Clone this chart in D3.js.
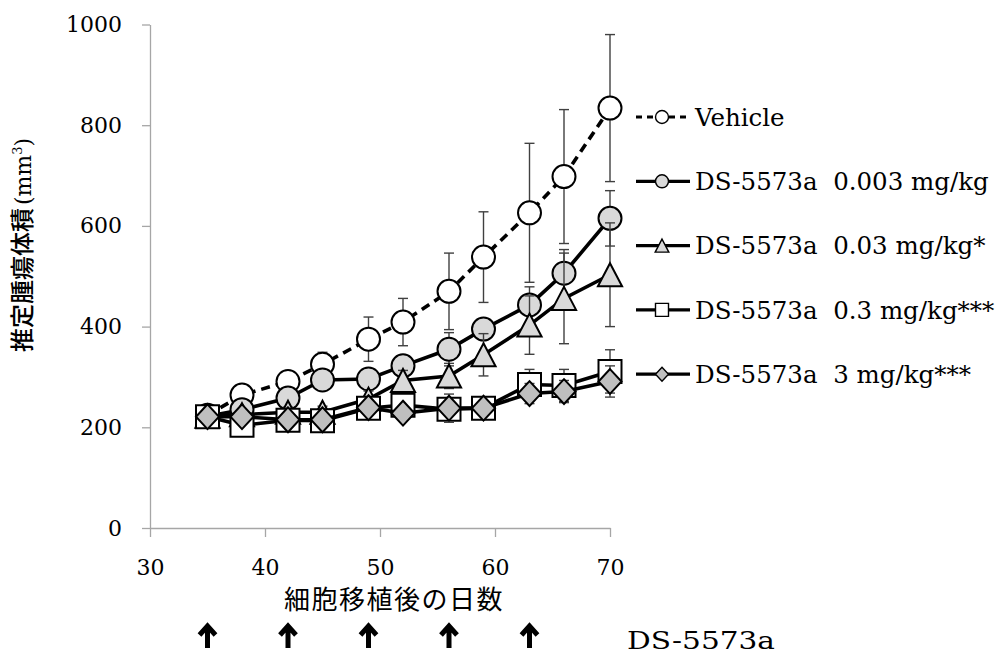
<!DOCTYPE html>
<html>
<head>
<meta charset="utf-8">
<script src="https://cdn.jsdelivr.net/npm/d3@7"></script>
<style>
  body { margin: 0; background: #fff; }
</style>
</head>
<body>
<script>
// tumour volume chart, DS-5573a dose groups vs vehicle

const days = [35, 38, 42, 45, 49, 52, 56, 59, 63, 66, 70];
const doseDays = [35, 42, 49, 56, 63];
const xTicks = [30, 40, 50, 60, 70];
const yTicks = [0, 200, 400, 600, 800, 1000];

const vehicle = [224, 264, 291, 325, 375, 409, 470, 538, 626, 698, 834];
const vehicleSem = [8, 10, 14, 24, 44, 47, 76, 90, 138, 133, 146];
const dose0003 = [222, 235, 258, 294, 296, 322, 355, 395, 443, 506, 615];
const dose0003Sem = [8, 10, 12, 14, 16, 20, 33, 20, 36, 47, 55];
const dose003 = [222, 225, 230, 230, 256, 293, 302, 344, 403, 456, 503];
const dose003Sem = [8, 8, 10, 12, 16, 20, 25, 42, 58, 90, 103];
const dose03 = [221, 204, 214, 213, 238, 244, 236, 238, 285, 283, 311];
const dose03Sem = [8, 10, 10, 10, 12, 14, 20, 14, 30, 32, 43];
const dose3 = [221, 221, 215, 215, 239, 228, 238, 238, 267, 271, 291];
const dose3Sem = [8, 8, 8, 8, 12, 14, 28, 14, 20, 22, 31];

const seriesNames = [
  "Vehicle",
  "DS-5573a\u00a0\u00a00.003 mg/kg",
  "DS-5573a\u00a0\u00a00.03 mg/kg*",
  "DS-5573a\u00a0\u00a00.3 mg/kg***",
  "DS-5573a\u00a0\u00a03 mg/kg***"
];

const serif = "'DejaVu Serif', 'Liberation Serif', serif";
const jp = "'Noto Sans CJK JP', sans-serif";
const axisGray = "#a6a6a6";

const series = [
  { name: seriesNames[0], values: vehicle, sem: vehicleSem, marker: "circle", fill: "#ffffff", dash: "9,6" },
  { name: seriesNames[1], values: dose0003, sem: dose0003Sem, marker: "circle", fill: "#d9d9d9", dash: null },
  { name: seriesNames[2], values: dose003, sem: dose003Sem, marker: "triangle", fill: "#d9d9d9", dash: null },
  { name: seriesNames[3], values: dose03, sem: dose03Sem, marker: "square", fill: "#ffffff", dash: null },
  { name: seriesNames[4], values: dose3, sem: dose3Sem, marker: "diamond", fill: "#bfbfbf", dash: null }
];

const x = d3.scaleLinear().domain([30, 70]).range([150, 610]);
const y = d3.scaleLinear().domain([0, 1000]).range([528, 24.5]);

const svg = d3.select("body").append("svg")
  .attr("width", 1002)
  .attr("height", 655);

// marker shapes, s = full size in px, centred on bbox
function markerPath(type, s) {
  const h = s / 2;
  switch (type) {
    case "circle":
      return d3.symbol().type(d3.symbolCircle).size(Math.PI * h * h)();
    case "triangle":
      return `M0,${-h}L${h * 1.05},${h}L${-h * 1.05},${h}Z`;
    case "square":
      return `M${-h},${-h}H${h}V${h}H${-h}Z`;
    case "diamond":
      return `M0,${-h * 1.08}L${h},0L0,${h * 1.08}L${-h},0Z`;
  }
}

// axes
const yAxis = svg.append("g")
  .attr("transform", "translate(150,0)")
  .call(d3.axisLeft(y).tickValues(yTicks).tickFormat(d3.format("d"))
    .tickSize(8).tickPadding(20).tickSizeOuter(0));

const xAxis = svg.append("g")
  .attr("transform", "translate(0,528)")
  .call(d3.axisBottom(x).tickValues(xTicks).tickSize(9).tickSizeOuter(0));

[yAxis, xAxis].forEach(g => {
  g.select(".domain").attr("stroke", axisGray).attr("stroke-width", 1.3);
  g.selectAll(".tick line").attr("stroke", axisGray).attr("stroke-width", 1.3);
  g.selectAll(".tick text")
    .attr("font-family", serif)
    .attr("font-size", 22)
    .attr("fill", "#000");
});
xAxis.selectAll(".tick text").attr("y", 47).attr("dy", 0);

// series: line, error bars, markers
const line = d3.line()
  .x((d, i) => x(days[i]))
  .y(d => y(d));

series.forEach(s => {
  const g = svg.append("g");

  g.append("path")
    .datum(s.values)
    .attr("d", line)
    .attr("fill", "none")
    .attr("stroke", "#000")
    .attr("stroke-width", 3.6)
    .attr("stroke-dasharray", s.dash);

  const err = g.selectAll(".err")
    .data(s.values)
    .enter().append("g");

  err.append("line")
    .attr("x1", (d, i) => x(days[i]))
    .attr("x2", (d, i) => x(days[i]))
    .attr("y1", (d, i) => y(d - s.sem[i]))
    .attr("y2", (d, i) => y(d + s.sem[i]))
    .attr("stroke", "#404040")
    .attr("stroke-width", 1.4);

  [1, -1].forEach(sign => {
    err.append("line")
      .attr("x1", (d, i) => x(days[i]) - 5)
      .attr("x2", (d, i) => x(days[i]) + 5)
      .attr("y1", (d, i) => y(d + sign * s.sem[i]))
      .attr("y2", (d, i) => y(d + sign * s.sem[i]))
      .attr("stroke", "#404040")
      .attr("stroke-width", 1.4);
  });

  g.selectAll(".mk")
    .data(s.values)
    .enter().append("path")
    .attr("transform", (d, i) => `translate(${x(days[i])},${y(d)})`)
    .attr("d", markerPath(s.marker, 23))
    .attr("fill", s.fill)
    .attr("stroke", "#000")
    .attr("stroke-width", 2);
});

// legend
const legend = svg.append("g");
series.forEach((s, i) => {
  const ly = 117 + i * 64.3;
  const item = legend.append("g").attr("transform", `translate(0,${ly})`);
  item.append("line")
    .attr("x1", 636).attr("x2", 690)
    .attr("y1", 0).attr("y2", 0)
    .attr("stroke", "#000")
    .attr("stroke-width", 3.2)
    .attr("stroke-dasharray", s.dash ? "6,5" : null);
  item.append("path")
    .attr("transform", "translate(662,0)")
    .attr("d", markerPath(s.marker, 13))
    .attr("fill", s.fill)
    .attr("stroke", "#000")
    .attr("stroke-width", 1.4);
  item.append("text")
    .attr("x", 695)
    .attr("y", 0)
    .attr("dy", "0.36em")
    .attr("font-family", serif)
    .attr("font-size", 24.5)
    .text(s.name);
});

// axis titles
const yTitle = svg.append("text")
  .attr("transform", "translate(25,245) rotate(-90)")
  .attr("text-anchor", "middle")
  .attr("dy", "0.35em");
yTitle.append("tspan").attr("font-family", jp).attr("font-size", 24).attr("font-weight", 500).text("推定腫瘍体積");
yTitle.append("tspan").attr("font-family", serif).attr("font-size", 22).attr("dx", 3).text("(mm");
yTitle.append("tspan").attr("font-family", serif).attr("font-size", 13).attr("dy", -9).text("3");
yTitle.append("tspan").attr("font-family", serif).attr("font-size", 22).attr("dy", 9).text(")");

svg.append("text")
  .attr("x", 394)
  .attr("y", 609)
  .attr("text-anchor", "middle")
  .attr("font-family", jp)
  .attr("font-size", 26)
  .attr("letter-spacing", 1.5)
  .text("細胞移植後の日数");

// dosing arrows
svg.selectAll(".arrow")
  .data(doseDays)
  .enter().append("path")
  .attr("transform", d => `translate(${x(d)},625)`)
  .attr("d", "M-8,10L0,1L8,10M0,2V23")
  .attr("fill", "none")
  .attr("stroke", "#000")
  .attr("stroke-width", 5);

svg.append("text")
  .attr("x", 627)
  .attr("y", 649)
  .attr("font-family", serif)
  .attr("font-size", 24)
  .attr("textLength", 148)
  .attr("lengthAdjust", "spacingAndGlyphs")
  .text("DS-5573a");
</script>
</body>
</html>
